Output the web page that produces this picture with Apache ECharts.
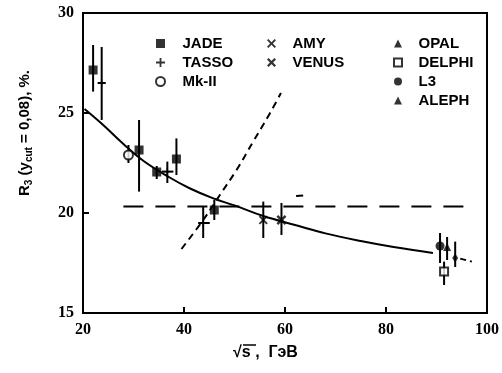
<!DOCTYPE html>
<html>
<head>
<meta charset="utf-8">
<script src="https://cdn.jsdelivr.net/npm/echarts@6/dist/echarts.min.js"></script>
<style>html,body{margin:0;padding:0;background:#fff;}#c{width:502px;height:373px;}</style>
</head>
<body>
<div id="c"></div>
<script>
// Each row: [sqrt(s), R3, lower, upper, xLow, xHigh]
const JADE   = [[22.0,27.15,26.07,28.4,22.0,22.0],[31.1,23.15,21.07,24.65,31.1,31.1],[34.6,22.05,21.7,22.35,34.6,34.6],[38.5,22.7,21.9,23.73,38.5,38.5],[46.0,20.15,19.65,20.65,46.0,46.0]];
const TASSO  = [[23.7,26.5,24.65,28.3,22.9,24.5],[36.7,22.07,21.5,22.57,35.6,37.9],[43.8,19.5,18.75,20.3,42.8,45.1]];
const MKII   = [[29.0,22.9,22.5,23.4,29.0,29.0]];
const AMY    = [[55.7,19.65,18.75,20.57,55.7,55.7]];
const VENUS  = [[59.3,19.65,18.9,20.5,59.3,59.3]];
const OPAL   = [[92.1,18.3,17.65,18.8,92.1,92.1]];
const DELPHI = [[91.5,17.07,16.4,17.57,91.5,91.5]];
const L3     = [[90.7,18.35,17.5,19.0,90.7,90.7]];
const ALEPH  = [[93.7,17.75,17.3,18.57,93.7,93.7]];

const fitX = [20.3, 24, 28, 32, 37, 41, 45.8, 50, 55.7, 62, 68, 75, 81.5, 89.3];
const fitY = [25.2, 24.4, 23.45, 22.6, 21.8, 21.25, 20.73, 20.38, 19.85, 19.4, 18.98, 18.6, 18.3, 18.0];
const fitTailX = [94.7, 97.0];
const fitTailY = [17.72, 17.57];
const steepX = [39.5, 43.8, 47.1, 50.4, 53.7, 57.0, 59.2];
const steepY = [18.2, 19.65, 20.9, 22.15, 23.57, 24.98, 26.0];
const flatX = [28.0, 97.0];
const flatY = [20.32, 20.32];
const strayX = [62.2, 63.6];
const strayY = [20.85, 20.88];

const xTicks = [20, 40, 60, 80, 100];
const yTicks = [15, 20, 25, 30];

const pairs = (xs, ys) => xs.map((x, i) => [x, ys[i]]);

const P_PLUS = 'path://M4,0H6V4H10V6H6V10H4V6H0V4H4Z';
const P_X = 'path://M0,1.5L1.5,0L5,3.5L8.5,0L10,1.5L6.5,5L10,8.5L8.5,10L5,6.5L1.5,10L0,8.5L3.5,5Z';
const P_AST = 'path://M0,1.8L1.8,0L5,3.2L8.2,0L10,1.8L6.8,5L10,8.2L8.2,10L5,6.8L1.8,10L0,8.2L3.2,5Z M3,3H7V7H3Z';

const black = '#000';
const openStyle = {color: '#fff', borderColor: black, borderWidth: 2};

function errRender(params, api) {
  const x = api.value(0), y = api.value(1), lo = api.value(2), hi = api.value(3), xl = api.value(4), xh = api.value(5);
  const t = api.coord([x, hi]), b = api.coord([x, lo]);
  const ch = [{type: 'line', shape: {x1: t[0], y1: t[1], x2: b[0], y2: b[1]}, style: {stroke: black, lineWidth: 2}}];
  if (xh > xl) {
    const l = api.coord([xl, y]), r = api.coord([xh, y]);
    ch.push({type: 'line', shape: {x1: l[0], y1: l[1], x2: r[0], y2: r[1]}, style: {stroke: black, lineWidth: 2}});
  }
  return {type: 'group', children: ch};
}

const allErr = [].concat(JADE, TASSO, MKII, AMY, VENUS, OPAL, DELPHI, L3, ALEPH);

const scat = (name, rows, symbol, size, style) => ({
  type: 'scatter', name, data: rows.map(r => [r[0], r[1]]), symbol, symbolSize: size,
  itemStyle: Object.assign({color: black}, style || {}), z: 5, silent: true
});

const lineS = (xs, ys, type, smooth) => ({
  type: 'line', data: pairs(xs, ys), showSymbol: false, symbol: 'none', smooth: smooth ? 0.4 : false,
  lineStyle: {color: black, width: 2, type: type}, z: 3, silent: true
});

const FONT = 'Liberation Sans';
const legendText = (pad) => ({fontFamily: FONT, fontWeight: 'bold', fontSize: 15, color: black, lineHeight: 19, padding: [0, 0, 0, pad]});

const chart = echarts.init(document.getElementById('c'), null, {renderer: 'canvas'});
chart.setOption({
  animation: false,
  backgroundColor: '#fff',
  grid: {left: 83, right: 12, top: 13, bottom: 60, show: true, borderColor: black, borderWidth: 2},
  xAxis: {
    type: 'value', min: xTicks[0], max: xTicks[xTicks.length - 1], interval: 20,
    axisLine: {lineStyle: {color: black, width: 2}},
    axisTick: {inside: true, length: 6, lineStyle: {color: black, width: 2}},
    axisLabel: {color: black, fontFamily: 'Liberation Sans Narrow', fontWeight: 'bold', fontSize: 16, margin: 9},
    splitLine: {show: false}
  },
  yAxis: {
    type: 'value', min: yTicks[0], max: yTicks[yTicks.length - 1], interval: 5,
    axisLine: {lineStyle: {color: black, width: 2}},
    axisTick: {inside: true, length: 6, lineStyle: {color: black, width: 2}},
    axisLabel: {color: black, fontFamily: 'Liberation Sans Narrow', fontWeight: 'bold', fontSize: 16, margin: 9},
    splitLine: {show: false}
  },
  legend: [
    {orient: 'vertical', left: 150, top: 29, itemWidth: 9, itemHeight: 9, itemGap: 0, selectedMode: false,
     textStyle: legendText(12.5),
     data: [{name: 'JADE', icon: 'rect'}, {name: 'TASSO', icon: P_PLUS}, {name: 'Mk-II', icon: 'circle'}]},
    {orient: 'vertical', left: 262, top: 29, itemWidth: 9, itemHeight: 9, itemGap: 0, selectedMode: false,
     textStyle: legendText(11.5),
     data: [{name: 'AMY', icon: P_X}, {name: 'VENUS', icon: P_AST}]},
    {orient: 'vertical', left: 388, top: 29, itemWidth: 8, itemHeight: 8, itemGap: 0, selectedMode: false,
     textStyle: legendText(11.5),
     data: [{name: 'OPAL', icon: 'triangle'}, {name: 'DELPHI', icon: 'rect'}, {name: 'L3', icon: 'circle'}, {name: 'ALEPH', icon: 'triangle'}]}
  ],
  graphic: [
    {type: 'text', x: 25, y: 133, rotation: Math.PI / 2, z: 10,
     style: {text: 'R{s|3} (y{s|cut} = 0,08), %.', rich: {s: {fontSize: 10, fontFamily: FONT, fontWeight: 'bold', verticalAlign: 'bottom', padding: [8, 0, 0, 0]}},
             fontFamily: FONT, fontWeight: 'bold', fontSize: 15, fill: black, align: 'center', verticalAlign: 'middle'}},
    {type: 'text', x: 233, y: 353, z: 10,
     style: {text: '√s ,  ГэВ', fontFamily: FONT, fontWeight: 'bold', fontSize: 16, fill: black, align: 'left', verticalAlign: 'middle'}},
    {type: 'line', z: 10, shape: {x1: 243, y1: 345, x2: 256, y2: 345}, style: {stroke: black, lineWidth: 1.5}}
  ],
  series: [
    lineS(fitX, fitY, 'solid', true),
    lineS(fitTailX, fitTailY, [6, 4], false),
    lineS(steepX, steepY, [7, 5], true),
    lineS(flatX, flatY, [20, 12], false),
    lineS(strayX, strayY, 'solid', false),
    {type: 'custom', renderItem: errRender, data: allErr, z: 4, silent: true, encode: {x: 0, y: 1}},
    scat('JADE', JADE, 'rect', 9),
    scat('TASSO', TASSO, P_PLUS, 7),
    scat('Mk-II', MKII, 'circle', 9, openStyle),
    scat('AMY', AMY, P_X, 9),
    scat('VENUS', VENUS, P_AST, 10),
    scat('OPAL', OPAL, 'triangle', 8),
    scat('DELPHI', DELPHI, 'rect', 8, openStyle),
    scat('L3', L3, 'circle', 9),
    scat('ALEPH', ALEPH, 'diamond', [6, 9])
  ]
});
</script>
</body>
</html>
